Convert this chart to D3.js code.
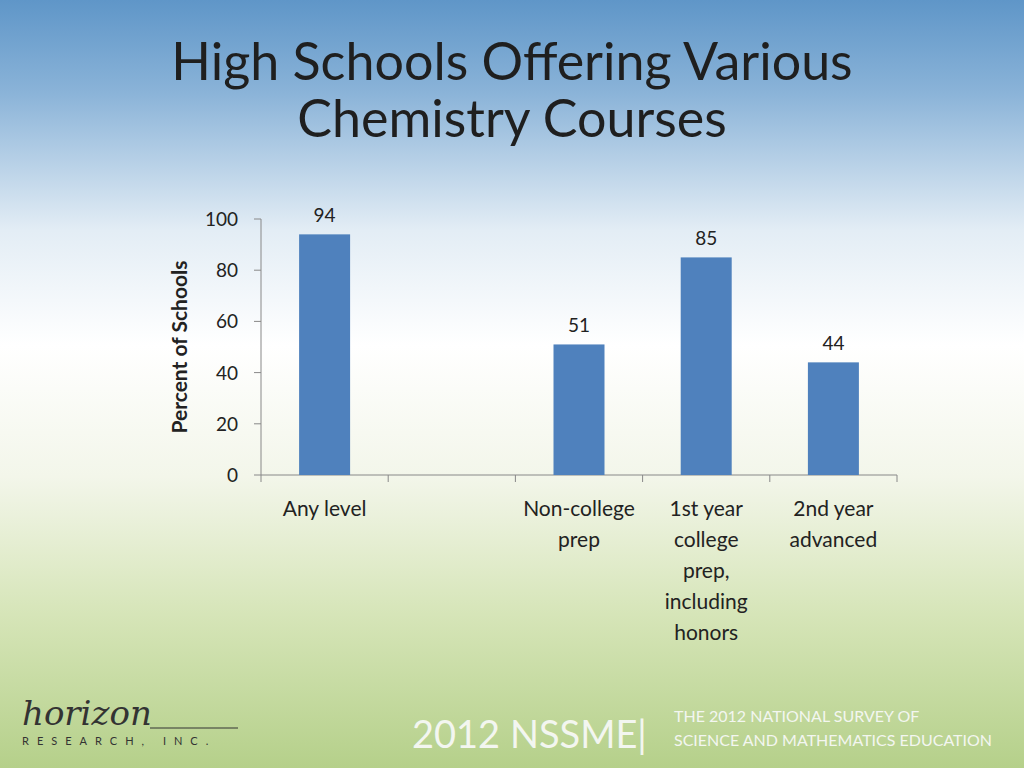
<!DOCTYPE html>
<html><head><meta charset="utf-8">
<script src="https://cdn.jsdelivr.net/npm/d3@7"></script>
<style>body{margin:0;overflow:hidden}svg{display:block;font-family:Lato,"Open Sans",sans-serif}</style>
</head><body><svg id="c" width="1024" height="768"></svg>
<script>
// chart data
const categories = ["Any level", "", "Non-college prep", "1st year college prep, including honors", "2nd year advanced"];
const labelLines = [["Any level"], [], ["Non-college", "prep"], ["1st year", "college", "prep,", "including", "honors"], ["2nd year", "advanced"]];
const values = [94, null, 51, 85, 44];
const yTicks = [0, 20, 40, 60, 80, 100];

const svg = d3.select("#c");
const defs = svg.append("defs");
const bg = defs.append("linearGradient").attr("id", "bg").attr("x1", 0).attr("y1", 0).attr("x2", 0).attr("y2", 1);
[[0, "#5f96c8"], [0.12, "#8ab3d8"], [0.3, "#e3edf5"], [0.45, "#ffffff"], [0.62, "#f3f6ea"], [0.8, "#d6e5b8"], [1, "#b5d08a"]]
  .forEach(([o, c]) => bg.append("stop").attr("offset", o).attr("stop-color", c));
svg.append("rect").attr("width", 1024).attr("height", 768).attr("fill", "url(#bg)");

// title
svg.append("text").attr("x", 512).attr("y", 80).attr("text-anchor", "middle").attr("font-size", 52).attr("fill", "#1f1f1f").text("High Schools Offering Various");
svg.append("text").attr("x", 512).attr("y", 137).attr("text-anchor", "middle").attr("font-size", 52).attr("fill", "#1f1f1f").text("Chemistry Courses");

const y = d3.scaleLinear().domain([0, 100]).range([475, 219]);

// axes
const g = svg.append("g");
g.append("line").attr("x1", 261).attr("x2", 261).attr("y1", 219).attr("y2", 475).attr("stroke", "#888");
g.append("line").attr("x1", 261).attr("x2", 897).attr("y1", 475).attr("y2", 475).attr("stroke", "#888");
yTicks.forEach(t => {
  g.append("line").attr("x1", 254).attr("x2", 261).attr("y1", y(t)).attr("y2", y(t)).attr("stroke", "#888");
  g.append("text").attr("x", 238).attr("y", y(t) + 7).attr("text-anchor", "end").attr("font-size", 19).attr("fill", "#222").text(t);
});
const step = (897 - 261) / categories.length;
d3.range(categories.length + 1).forEach(i => {
  g.append("line").attr("x1", 261 + i * step).attr("x2", 261 + i * step).attr("y1", 475).attr("y2", 482).attr("stroke", "#888");
});

// bars
values.forEach((v, i) => {
  if (v == null) return;
  const cx = 261 + (i + 0.5) * step;
  g.append("rect").attr("x", cx - 25.5).attr("width", 51).attr("y", y(v)).attr("height", y(0) - y(v)).attr("fill", "#4f81bd");
  g.append("text").attr("x", cx).attr("y", y(v) - 12).attr("text-anchor", "middle").attr("font-size", 19).attr("fill", "#222").text(v);
});
labelLines.forEach((lines, i) => {
  const cx = 261 + (i + 0.5) * step;
  lines.forEach((l, j) => g.append("text").attr("x", cx).attr("y", 516 + j * 31).attr("text-anchor", "middle").attr("font-size", 21).attr("fill", "#222").text(l));
});
svg.append("text").attr("transform", "translate(187,347) rotate(-90)").attr("text-anchor", "middle").attr("font-size", 21).attr("font-weight", "bold").attr("fill", "#222").text("Percent of Schools");

// footer
svg.append("text").attr("x", 22).attr("y", 725).attr("font-size", 34).attr("font-style", "italic").attr("font-family", "DejaVu Serif").attr("fill", "#333").text("horizon");
svg.append("line").attr("x1", 150).attr("x2", 238).attr("y1", 728).attr("y2", 728).attr("stroke", "#333");
svg.append("text").attr("x", 22).attr("y", 745).attr("font-size", 11).attr("letter-spacing", 8).attr("fill", "#333").text("RESEARCH, INC.");
svg.append("text").attr("x", 412).attr("y", 748).attr("font-size", 38).attr("fill", "#f3f6f0").text("2012 NSSME|");
svg.append("text").attr("x", 674).attr("y", 722).attr("font-size", 16).attr("fill", "#f3f6f0").text("THE 2012 NATIONAL SURVEY OF");
svg.append("text").attr("x", 674).attr("y", 746).attr("font-size", 16).attr("fill", "#f3f6f0").text("SCIENCE AND MATHEMATICS EDUCATION");
</script></body></html>
